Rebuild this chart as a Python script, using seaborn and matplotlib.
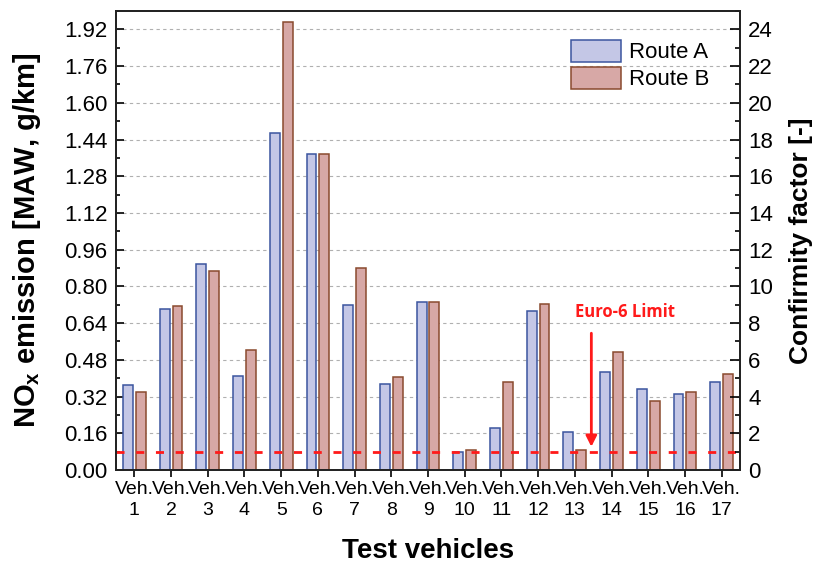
import matplotlib
matplotlib.use("Agg")
import matplotlib.pyplot as plt
from matplotlib.patches import Patch
from matplotlib.ticker import MultipleLocator, FormatStrFormatter
import pandas as pd
import seaborn as sns

# NOx emission (MAW, g/km) per test vehicle on both routes
vehicles = [f"Veh.\n{i}" for i in range(1, 18)]
route_a = [0.370, 0.700, 0.897, 0.411, 1.468, 1.377, 0.717, 0.374, 0.730,
           0.077, 0.181, 0.694, 0.165, 0.428, 0.351, 0.331, 0.382]
route_b = [0.338, 0.714, 0.865, 0.521, 1.950, 1.377, 0.879, 0.406, 0.730,
           0.088, 0.383, 0.724, 0.086, 0.514, 0.299, 0.341, 0.418]
routes = ["Route A", "Route B"]
euro6_limit = 0.08          # g/km, conformity factor 1
y_max = 2.0
left_ticks_step = 0.16
right_ticks_step = 2

fill_colors = {"Route A": "#c4c7e6", "Route B": "#d7a8a6"}
edge_colors = {"Route A": "#3b559f", "Route B": "#8a4a2e"}

sns.set_theme(style="white")
plt.rcParams["font.family"] = ["Liberation Sans", "DejaVu Sans"]
plt.rcParams["mathtext.fontset"] = "custom"
plt.rcParams["mathtext.rm"] = "Liberation Sans"
plt.rcParams["mathtext.bf"] = "Liberation Sans:bold"
for key in ("text.color", "axes.labelcolor", "xtick.color", "ytick.color"):
    plt.rcParams[key] = "black"

df = pd.DataFrame({
    "vehicle": vehicles * 2,
    "route": [routes[0]] * len(vehicles) + [routes[1]] * len(vehicles),
    "nox": route_a + route_b,
})

fig = plt.figure(figsize=(8.17, 5.67), dpi=100)
ax = fig.add_axes([116 / 817, 1 - 470 / 567, 624 / 817, 459 / 567])

sns.barplot(data=df, x="vehicle", y="nox", hue="route", hue_order=routes,
            palette=fill_colors, saturation=1, width=0.7, gap=0.23,
            linewidth=1.1, legend=False, ax=ax, zorder=2)
for cont, r in zip(ax.containers, routes):
    for bar in cont:
        bar.set_edgecolor(edge_colors[r])
        bar.set_linewidth(1.1)

ax.set_ylim(0, y_max)
ax.set_xlim(-0.5, len(vehicles) - 0.5)
ax.yaxis.set_major_locator(MultipleLocator(left_ticks_step))
ax.yaxis.set_minor_locator(MultipleLocator(left_ticks_step / 2))
ax.yaxis.set_major_formatter(FormatStrFormatter("%.2f"))
ax.set_axisbelow(True)
ax.yaxis.grid(True, which="major", color="#b0b0b0", linestyle=(0, (3, 3)), linewidth=0.8)
ax.xaxis.grid(False)

# Euro-6 limit line
ax.axhline(euro6_limit, color="#ff1a1a", linestyle=(0, (2.9, 4.2)), linewidth=2, zorder=4)

ax.tick_params(axis="y", which="major", direction="in", length=6, width=1.2,
               labelsize=16, pad=6, left=True)
ax.tick_params(axis="y", which="minor", direction="in", length=3, width=1.2, left=True)
ax.tick_params(axis="x", which="major", direction="out", length=5, width=1.2,
               labelsize=14, pad=3, bottom=True)
for lab in ax.get_xticklabels():
    lab.set_linespacing(1.3)

for s in ax.spines.values():
    s.set_linewidth(1.3)
    s.set_color("#222222")

ax.set_xlabel("Test vehicles", fontsize=20, fontweight="bold", labelpad=14)
ax.set_ylabel(r"NO$_\mathbf{x}$ emission [MAW, g/km]", fontsize=21, fontweight="bold")
ax.yaxis.set_label_coords(-0.117, 0.5)

# Conformity factor axis: same scale divided by the limit
ax2 = ax.twinx()
ax2.set_ylim(0, y_max / euro6_limit)
ax2.yaxis.set_major_locator(MultipleLocator(right_ticks_step))
ax2.yaxis.set_minor_locator(MultipleLocator(right_ticks_step / 2))
ax2.tick_params(axis="y", which="major", direction="in", length=7, width=1.2,
                labelsize=16, pad=6, right=True)
ax2.tick_params(axis="y", which="minor", direction="in", length=3.5, width=1.2, right=True)
ax2.grid(False)
for s in ax2.spines.values():
    s.set_linewidth(1.3)
    s.set_color("#222222")
ax2.set_ylabel("Confirmity factor [-]", fontsize=19, fontweight="bold")
ax2.yaxis.set_label_coords((789 - 116) / 624, 0.5)

# Annotation for the limit line
ax.annotate("", xy=(12.45, 0.101), xytext=(12.45, 0.596),
            arrowprops=dict(arrowstyle="-|>", color="#ff1a1a", lw=2,
                            mutation_scale=16, shrinkA=0, shrinkB=0), zorder=5)
ax.text(13.38, 0.689, "Euro-6 Limit", color="#ff1a1a", fontsize=12,
        fontweight="bold", ha="center", va="center", family=["Open Sans"])

handles = [Patch(facecolor=fill_colors[r], edgecolor=edge_colors[r], linewidth=1.1)
           for r in routes]
fig.legend(handles, routes, loc="upper left", bbox_to_anchor=(571 / 817, 1 - 40 / 567),
           frameon=False, handlelength=2.27, handleheight=1.12,
           handletextpad=0.32, labelspacing=0.17, borderpad=0, borderaxespad=0,
           prop={"family": ["Liberation Sans"], "size": 16})

fig.savefig("out.png", dpi=100)
